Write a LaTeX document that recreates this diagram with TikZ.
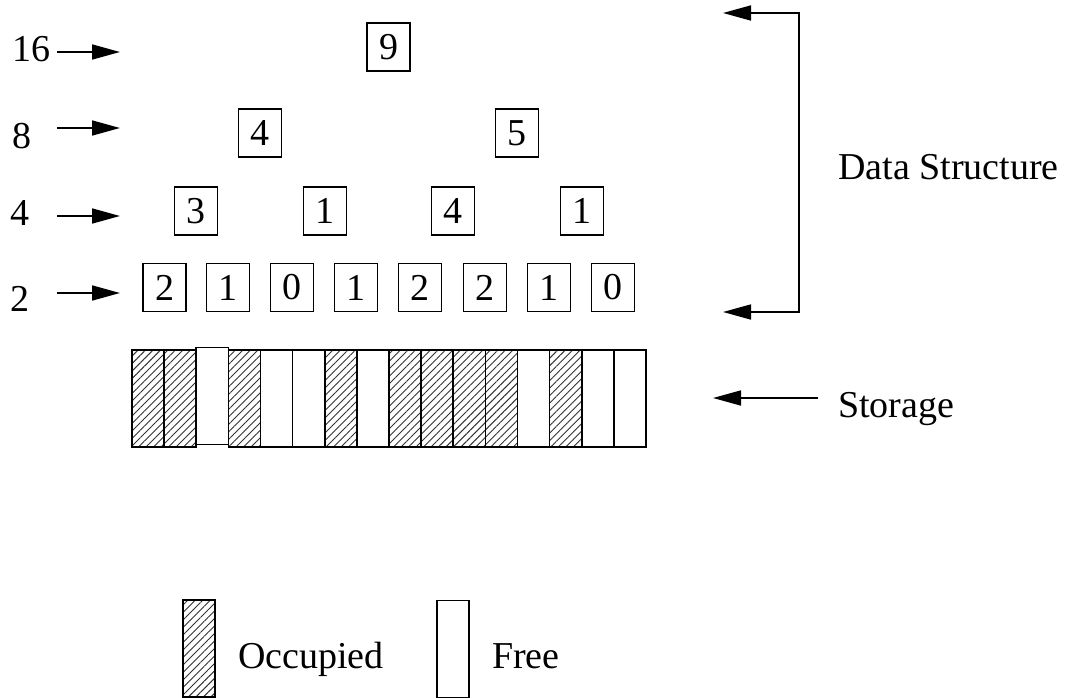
\documentclass[tikz,border=0pt]{standalone}
\usepackage{fontspec}
\setmainfont{Liberation Serif}
\usetikzlibrary{arrows.meta,patterns.meta}
\begin{document}
\begin{tikzpicture}[x=1pt,y=-1pt,
  every node/.style={font=\fontsize{38}{44}\selectfont, inner sep=0pt},
  cnt/.style={draw, line width=1.6pt, minimum width=43pt, minimum height=48pt},
  lvl/.style={anchor=base west},
  ptr/.style={line width=1.7pt, -{Triangle[length=28pt,width=15pt]}},
  slot/.style={draw, line width=1.6pt, minimum width=32.1pt, minimum height=97pt},
  used/.style={slot, pattern={Lines[angle=45,distance=5.3pt,line width=0.9pt]}, pattern color=black!80},
]
\useasboundingbox (0,0) rectangle (1065,698);

% counter tree
\node[cnt] (r16a) at (388.5,47) {9};
\node[cnt] (r8a) at (260,133) {4};
\node[cnt] (r8b) at (517,133) {5};
\foreach \x/\v [count=\i] in {196/3,325/1,453/4,582/1}
  \node[cnt] (r4\i) at (\x,211) {\v};
\foreach \x/\v [count=\i] in {164.5/2,228/1,292/0,356/1,420/2,485/2,549/1,613/0}
  \node[cnt] (r2\i) at (\x,287.5) {\v};

% level sizes and their pointers
\node[lvl] (l16) at (12,62) {16};
\node[lvl] (l8) at (12,148) {8};
\node[lvl] (l4) at (10,225) {4};
\node[lvl] (l2) at (10,311) {2};
\foreach \n/\y in {16/52,8/128,4/216,2/293} {
  \coordinate (t\n) at (57,\y);
  \coordinate (h\n) at (120,\y);
  \draw[ptr] (t\n) -- (h\n);
}

% bracket around the data structure
\coordinate (btop) at (723,13);
\coordinate (btr) at (799,13);
\coordinate (bbr) at (799,312);
\coordinate (bbot) at (723,312);
\draw[line width=1.7pt, {Triangle[length=28pt,width=15pt]}-{Triangle[length=28pt,width=15pt]}]
  (btop) -- (btr) -- (bbr) -- (bbot);
\node[lvl] (ds) at (838,179) {Data Structure};

% storage blocks
\foreach \o [count=\i] in {1,1,0,1,0,0,1,0,1,1,1,1,0,1,0,0} {
  \pgfmathsetmacro{\cx}{132+32.125*(\i-0.5)}
  \pgfmathsetmacro{\cy}{\i==3 ? 396 : 398.5}
  \ifnum\o=1
    \node[used] (s\i) at (\cx,\cy) {};
  \else
    \node[slot] (s\i) at (\cx,\cy) {};
  \fi
}
\coordinate (st) at (818,398);
\coordinate (sh) at (713,398);
\draw[ptr] (st) -- (sh);
\node[lvl] (stl) at (838,417) {Storage};

% legend
\node[used] (kocc) at (199,648.5) {};
\node[lvl] (kocct) at (238,668) {Occupied};
\node[slot] (kfree) at (453,649) {};
\node[lvl] (kfreet) at (492,668) {Free};
\end{tikzpicture}
\end{document}
